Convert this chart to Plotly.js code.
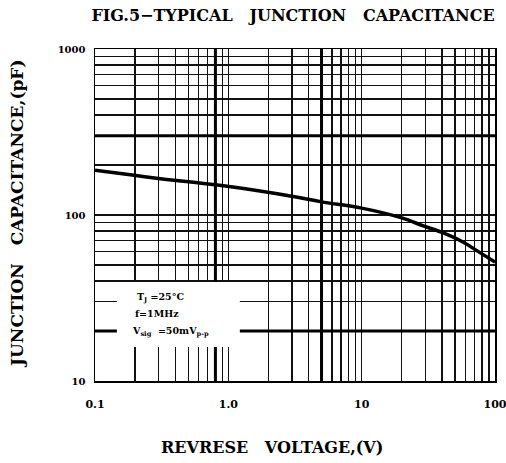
<!DOCTYPE html>
<html><head><meta charset="utf-8">
<script src="https://cdn.plot.ly/plotly-3.0.1.min.js"></script>
<style>html,body{margin:0;padding:0;background:#fff}#chart{width:506px;height:463px}</style>
</head><body><div id="chart"></div>
<script>
// Reverse voltage (V) and junction capacitance (pF)
const voltage = [0.1, 0.19, 0.32, 0.8, 1.5, 3.3, 5, 10, 20, 29, 41, 57, 73, 100];
const capacitance = [186, 174, 165, 152, 142, 128, 120, 110, 96, 86, 78, 69, 61, 52];

const xGridVals = [0.1,0.2,0.3,0.4,0.5,0.6,0.7,0.8,0.9,1,2,3,4,5,6,7,8,9,10,20,30,40,50,60,70,80,90,100];
const xLabelVals = [0.1, 1, 10, 100];
const xLabelText = ["0.1", "1.0", "10", "100"];
const yGridVals = [10,20,30,40,50,60,70,80,90,100,200,300,400,500,600,700,800,900,1000];
const yLabelVals = [10, 100, 1000];
const yLabelText = ["10", "100", "1000"];
const xHeavy = [0.8, 5];
const yHeavy = [300, 20];

const S2 = "\u00a0\u00a0\u00a0";
const titleText = "FIG.5\u2212TYPICAL" + S2 + "JUNCTION" + S2 + "CAPACITANCE";
const xTitle = "REVRESE" + S2 + "VOLTAGE,(V)";
const yTitle = "JUNCTION" + S2 + "CAPACITANCE,(pF)";
const condLines = ["T<sub>J</sub>\u00a0=25\u00b0C", "f=1MHz", "V<sub>sig</sub>\u00a0\u00a0=50mV<sub>p-p</sub>"];

const FONT = "DejaVu Serif";

const xText = xGridVals.map(v => { const i = xLabelVals.indexOf(v); return i >= 0 ? xLabelText[i] : ""; });
const yText = yGridVals.map(v => { const i = yLabelVals.indexOf(v); return i >= 0 ? yLabelText[i] : ""; });

const shapes = [];
xHeavy.forEach(v => shapes.push({type:"line", xref:"x", yref:"paper", x0:v, x1:v, y0:0, y1:1, line:{color:"#000", width:3}, layer:"above"}));
yHeavy.forEach(v => shapes.push({type:"line", xref:"paper", yref:"y", x0:0, x1:1, y0:v, y1:v, line:{color:"#000", width:3}, layer:"above"}));
// white box behind the test-condition text
shapes.push({type:"rect", xref:"x", yref:"y", x0:0.146, x1:1.22, y0:16, y1:39.5, fillcolor:"#fff", line:{width:0}, layer:"above"});

const annotations = [
  {text:xTitle, xref:"paper", yref:"paper", x:(272-95)/400, y:(381-447)/332, xanchor:"center", yanchor:"middle", showarrow:false, font:{family:FONT, size:16, color:"#000", weight:"bold"}},
  {text:yTitle, xref:"paper", yref:"paper", x:(17-95)/400, y:(381-214)/332, xanchor:"center", yanchor:"middle", textangle:-90, showarrow:false, font:{family:FONT, size:17, color:"#000", weight:"bold"}}
];
const condY = [297, 313, 331];
const condX = [135, 133, 130];
condLines.forEach((t, i) => annotations.push({text:t, xref:"paper", yref:"paper", x:(condX[i]-95)/400, y:(381-condY[i])/332, xanchor:"left", yanchor:"middle", showarrow:false, font:{family:FONT, size:9.5, color:"#000", weight:"bold"}}));

const trace = {x: voltage, y: capacitance, type:"scatter", mode:"lines", line:{color:"#000", width:3.5, shape:"spline"}, hoverinfo:"skip"};

const layout = {
  width:506, height:463, paper_bgcolor:"#fff", plot_bgcolor:"#fff",
  margin:{l:95, r:11, t:49, b:82},
  showlegend:false,
  title:{text:titleText, x:293/506, xanchor:"center", y:1-15/463, yanchor:"middle", font:{family:FONT, size:16, color:"#000", weight:"bold"}},
  xaxis:{type:"log", range:[-1, 2], tickvals:xGridVals, ticktext:xText, ticks:"outside", ticklen:12, tickcolor:"rgba(0,0,0,0)",
         ticklabeloverflow:"allow",
         showgrid:true, gridcolor:"#111", gridwidth:1.3, showline:true, linecolor:"#000", linewidth:1.5, mirror:true, zeroline:false,
         tickfont:{family:FONT, size:11, color:"#000", weight:"bold"}, tickangle:0},
  yaxis:{type:"log", range:[1, 3], tickvals:yGridVals, ticktext:yText, ticks:"outside", ticklen:6, tickcolor:"rgba(0,0,0,0)",
         showgrid:true, gridcolor:"#111", gridwidth:1.3, showline:true, linecolor:"#000", linewidth:1.5, mirror:true, zeroline:false,
         tickfont:{family:FONT, size:10, color:"#000", weight:"bold"}},
  shapes: shapes,
  annotations: annotations
};

Plotly.newPlot("chart", [trace], layout, {displayModeBar:false, staticPlot:true});
</script></body></html>
